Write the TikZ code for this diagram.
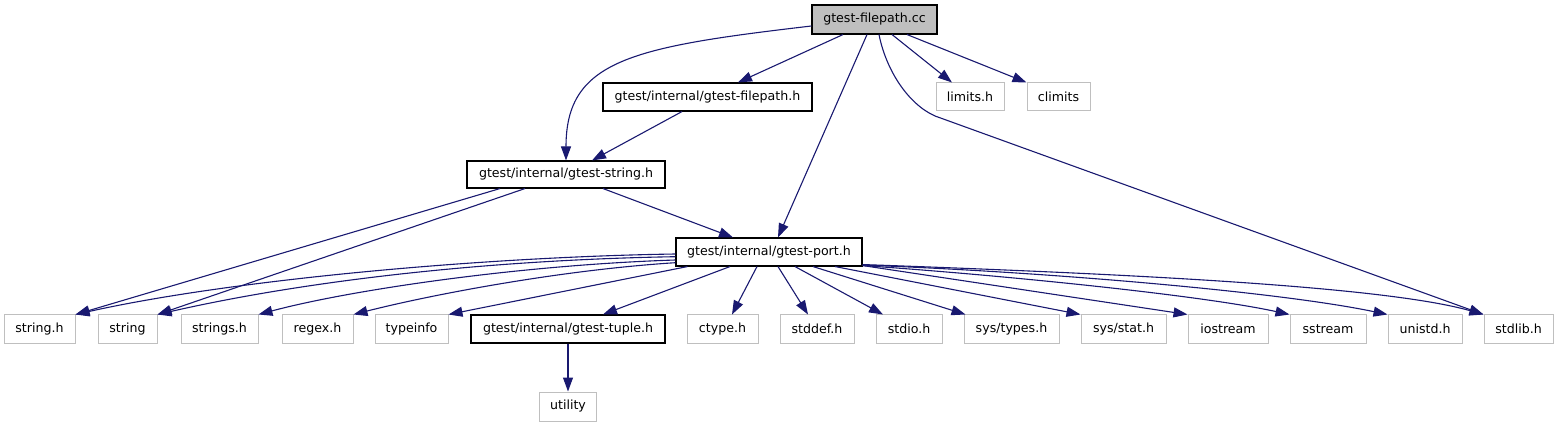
\documentclass[tikz,border=0pt]{standalone}
\usepackage{fontspec}
\setmainfont{DejaVu Sans}
\usetikzlibrary{arrows.meta}
\definecolor{edgec}{RGB}{25,25,112}
\definecolor{greyb}{RGB}{191,191,191}
\definecolor{rootfill}{RGB}{191,191,191}
\begin{document}
\begin{tikzpicture}[x=1pt,y=-1pt,
  box/.style={rectangle, inner sep=0pt, minimum height=28pt, font=\fontsize{12.6}{15}\selectfont, anchor=center},
  mainbox/.style={box, draw=black, line width=1.1pt},
  extbox/.style={box, draw=greyb, line width=1pt},
  rootbox/.style={mainbox, fill=rootfill},
  edge/.style={draw=edgec, line width=1.1pt, -{Triangle[length=14pt,width=10pt]}}]
\useasboundingbox (0,0) rectangle (1557,427);

% nodes
\node[rootbox, minimum width=125pt, minimum height=29pt] (root) at (874.5,19.5) {gtest-filepath.cc};
\node[mainbox, minimum width=209pt] (fp) at (707.5,97) {gtest/internal/gtest-filepath.h};
\node[extbox, minimum width=68pt] (lim) at (970,97) {limits.h};
\node[extbox, minimum width=63pt] (clim) at (1058.5,97) {climits};
\node[mainbox, minimum width=198pt, minimum height=27pt] (gs) at (566,174.5) {gtest/internal/gtest-string.h};
\node[mainbox, minimum width=186pt] (port) at (769,252) {gtest/internal/gtest-port.h};

\node[extbox, minimum width=71pt] (sh) at (39.5,329) {string.h};
\node[extbox, minimum width=59pt] (str) at (127.5,329) {string};
\node[extbox, minimum width=77pt] (strs) at (219.5,329) {strings.h};
\node[extbox, minimum width=71pt] (rgx) at (317.5,329) {regex.h};
\node[extbox, minimum width=73pt] (ti) at (411.5,329) {typeinfo};
\node[mainbox, minimum width=194pt] (tup) at (568,329) {gtest/internal/gtest-tuple.h};
\node[extbox, minimum width=71pt] (ct) at (722.5,329) {ctype.h};
\node[extbox, minimum width=74pt] (sd) at (817,329) {stddef.h};
\node[extbox, minimum width=66pt] (sio) at (909,329) {stdio.h};
\node[extbox, minimum width=95pt] (st) at (1011.5,329) {sys/types.h};
\node[extbox, minimum width=85pt] (ss) at (1123.5,329) {sys/stat.h};
\node[extbox, minimum width=80pt] (ios) at (1228,329) {iostream};
\node[extbox, minimum width=76pt] (sst) at (1328,329) {sstream};
\node[extbox, minimum width=74pt] (uni) at (1425,329) {unistd.h};
\node[extbox, minimum width=69pt] (sl) at (1518.5,329) {stdlib.h};
\node[extbox, minimum width=57pt, minimum height=29pt] (util) at (568,406.5) {utility};

% edges from root
\draw[edge] ([xshift=-31.5pt]root.south) -- ([xshift=30.5pt]fp.north);
\draw[edge] ([yshift=-6.5pt]root.west) .. controls (632,47) and (566,60) .. (gs.north);
\draw[edge] ([xshift=-7.5pt]root.south) -- ([xshift=9pt]port.north);
\draw[edge] ([xshift=17.5pt]root.south) -- ([xshift=-18pt]lim.north);
\draw[edge] ([xshift=32.5pt]root.south) -- (clim.north west);
\draw[edge] ([xshift=4.5pt]root.south) .. controls (886,70) and (908,104) .. (935,116) -- (sl.north west);

% edges from filepath.h
\draw[edge] ([xshift=-25.5pt]fp.south) -- ([xshift=26pt]gs.north);

% edges from gtest-string.h
\draw[edge] ([xshift=-66pt]gs.south) -- (sh.north east);
\draw[edge] ([xshift=-41pt]gs.south) -- (str.north east);
\draw[edge] ([xshift=37pt]gs.south) -- ([xshift=-36pt]port.north);

% edges from gtest-port.h
\draw[edge] ([yshift=-2pt]port.west) .. controls (480,257) and (230,280) .. (sh.north east);
\draw[edge] ([yshift=-4.7pt]port.west) .. controls (480,260) and (300,282) .. (str.north east);
\draw[edge] ([yshift=-8pt]port.west) .. controls (520,265) and (350,290) .. (strs.north east);
\draw[edge] ([yshift=-10.7pt]port.west) .. controls (560,270) and (430,295) .. (rgx.north east);
\draw[edge] ([xshift=12pt]port.south west) -- (ti.north east);
\draw[edge] ([xshift=-39pt]port.south) -- ([xshift=35pt]tup.north);
\draw[edge] ([xshift=-12pt]port.south) -- ([xshift=9.5pt]ct.north);
\draw[edge] ([xshift=9pt]port.south) -- ([xshift=-9pt]sd.north);
\draw[edge] ([xshift=26pt]port.south) -- ([xshift=-26pt]sio.north);
\draw[edge] ([xshift=44pt]port.south) -- ([xshift=2pt]st.north west);
\draw[edge] ([xshift=66pt]port.south) -- (ss.north west);
\draw[edge] ([yshift=1pt]port.south east) -- (ios.north west);
\draw[edge] ([yshift=1pt]port.south east) .. controls (1000,275) and (1200,295) .. (sst.north west);
\draw[edge] ([yshift=1.5pt]port.south east) .. controls (1050,272) and (1280,292) .. (uni.north west);
\draw[edge] ([yshift=2pt]port.south east) .. controls (1100,273) and (1380,285) .. (sl.north west);

% edge from tuple
\draw[edge] (tup.south) -- (util.north);
\end{tikzpicture}
\end{document}
